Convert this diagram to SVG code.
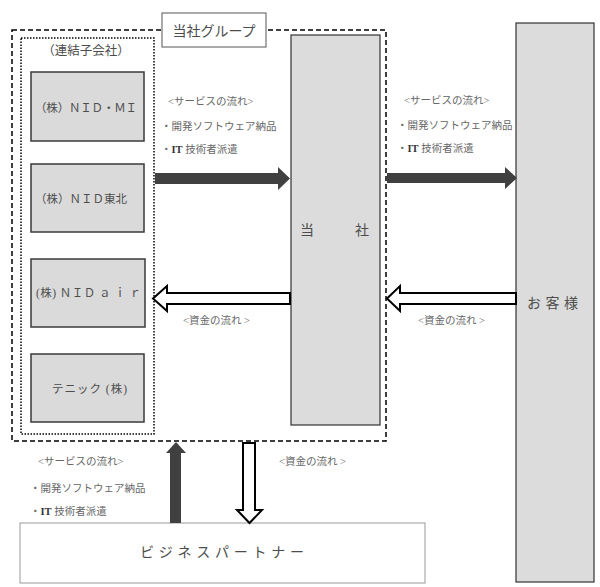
<svg xmlns="http://www.w3.org/2000/svg" width="600" height="587" viewBox="0 0 600 587">
<style>
text{font-family:"Liberation Serif","Noto Sans CJK JP",serif;fill:#4d4d4d}
.box{fill:#dadada;stroke:#3a3a3a;stroke-width:1.5}
.big{fill:#dcdcdc;stroke:#333;stroke-width:1.2}
.sub{font-size:11.5px}
.lbl{font-size:10.5px;fill:#666}
.dark{fill:#404040;stroke:none}
.hollow{fill:#fff;stroke:#000;stroke-width:2;stroke-linejoin:miter}
</style>
<rect width="600" height="587" fill="#fff"/>
<g id="group">
<rect x="12" y="30" width="374" height="411" fill="none" stroke="#000" stroke-width="1.5" stroke-dasharray="5 3"/>
<rect x="162" y="13" width="104" height="34" fill="#fff" stroke="#555" stroke-width="1"/>
<text x="214" y="36" font-size="14" text-anchor="middle">当社グループ</text>
</g>
<g id="subsidiaries">
<rect x="21" y="38" width="133" height="396" fill="none" stroke="#000" stroke-width="1.5" stroke-dasharray="1.5 1.5"/>
<text x="86" y="55" font-size="12.5" text-anchor="middle">（連結子会社）</text>
</g>
<g id="nid-mi"><rect class="box" x="31" y="72" width="113" height="69"/><text class="sub" x="35" y="112" textLength="102">（株）ＮＩＤ・ＭＩ</text></g>
<g id="nid-tohoku"><rect class="box" x="31" y="164" width="113" height="68"/><text class="sub" x="35" y="203" textLength="92">（株）ＮＩＤ東北</text></g>
<g id="nid-air"><rect class="box" x="31" y="259" width="114" height="68"/><text class="sub" x="36" y="297" textLength="105">(株) ＮＩＤ ａ ｉ ｒ</text></g>
<g id="tenic"><rect class="box" x="31" y="354" width="113" height="68"/><text class="sub" x="52" y="393" textLength="75">テニック (株)</text></g>
<g id="company"><rect class="big" x="291" y="35" width="89" height="390"/><text x="300" y="235" font-size="14">当</text><text x="355" y="235" font-size="14">社</text></g>
<g id="customer"><rect class="big" x="516" y="23" width="78" height="559"/><text x="527" y="308" font-size="14" textLength="51">お 客 様</text></g>
<g id="partner"><rect x="20" y="523" width="405" height="60" fill="#fff" stroke="#999" stroke-width="1"/><text x="140" y="557" font-size="14" textLength="164">ビジネスパートナー</text></g>
<g id="connectors">
<polygon class="dark" points="155,173 278,173 278,167 290,178.5 278,190 278,184 155,184"/>
<polygon class="dark" points="387,173 505,173 505,167 517,178 505,189 505,183 387,183"/>
<polygon class="hollow" points="290,293 167,293 167,286 153,298.5 167,311 167,304 290,304"/>
<polygon class="hollow" points="516,293 400,293 400,286 387,298.5 400,311 400,304 516,304"/>
<polygon class="dark" points="170,523 170,453 166,453 176,442 186,453 181,453 181,523"/>
<polygon class="hollow" points="243,443 255,443 255,510 262,510 249.5,523 237,510 243,510"/>
</g>
<g id="labels">
<text class="lbl" x="168" y="105">&lt;サービスの流れ&gt;</text>
<text class="lbl" x="161" y="130">・開発ソフトウェア納品</text>
<text class="lbl" x="161" y="153">・<tspan font-weight="bold" fill="#333">IT</tspan> 技術者派遣</text>
<text class="lbl" x="404" y="104">&lt;サービスの流れ&gt;</text>
<text class="lbl" x="397" y="129">・開発ソフトウェア納品</text>
<text class="lbl" x="397" y="152">・<tspan font-weight="bold" fill="#333">IT</tspan> 技術者派遣</text>
<text class="lbl" x="183" y="324">&lt;資金の流れ &gt;</text>
<text class="lbl" x="418" y="324">&lt;資金の流れ &gt;</text>
<text class="lbl" x="38" y="465">&lt;サービスの流れ&gt;</text>
<text class="lbl" x="30" y="492">・開発ソフトウェア納品</text>
<text class="lbl" x="30" y="515">・<tspan font-weight="bold" fill="#333">IT</tspan> 技術者派遣</text>
<text class="lbl" x="279" y="465">&lt;資金の流れ &gt;</text>
</g>
</svg>
